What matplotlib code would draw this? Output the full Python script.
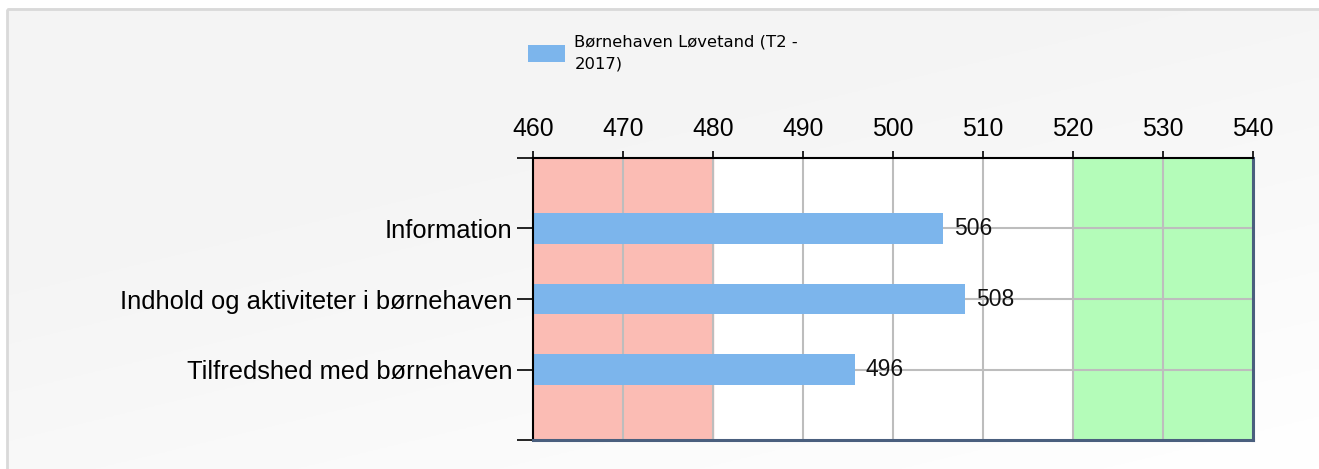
import numpy as np
import matplotlib.pyplot as plt
from matplotlib.patches import Rectangle

categories = ["Information", "Indhold og aktiviteter i børnehaven", "Tilfredshed med børnehaven"]
values = [505.6, 508.0, 495.8]
series_name = "Børnehaven Løvetand (T2 -\n2017)"
x_ticks = [460, 470, 480, 490, 500, 510, 520, 530, 540]
low_band = (460, 480)
high_band = (520, 540)

plt.rcParams["font.family"] = ["Liberation Sans", "DejaVu Sans"]

W, H = 1319, 469
fig = plt.figure(figsize=(W / 100, H / 100), dpi=100)
fig.patch.set_facecolor("white")

# panel background with light border
bg = fig.add_axes([0, 0, 1, 1], zorder=-10)
bg.set_xlim(0, W)
bg.set_ylim(H, 0)
bg.axis("off")
grad = np.linspace(0, 1, 200)
gx, gy = np.meshgrid(grad, grad)
shade = 0.957 + 0.043 * np.clip((gx * 0.6 + gy * 0.9) - 0.45, 0, 1) ** 1.0
bg.imshow(np.dstack([shade] * 3), extent=[7, W + 20, H + 20, 9], aspect="auto", zorder=0)
bg.add_patch(Rectangle((7, 9), W + 20, H + 20, fill=False, edgecolor="#d9d9d9", lw=2, zorder=1))

ax = fig.add_axes([533 / W, 1 - 440 / H, (1253 - 533) / W, (440 - 158) / H])
ax.set_facecolor("white")
ypos = np.arange(1, len(categories) + 1)

ax.axvspan(*low_band, color="#fbbcb4", zorder=0)
ax.axvspan(*high_band, color="#b4fcb9", zorder=0)
for xv in x_ticks:
    ax.axvline(xv, color="#bdbdbd", lw=1.5, zorder=1)
for yv in ypos:
    ax.axhline(yv, color="#bdbdbd", lw=1.5, zorder=1)

ax.barh(ypos, np.array(values) - x_ticks[0], left=x_ticks[0], height=0.43,
        color="#7cb5ec", zorder=2, label=series_name)
for yv, v in zip(ypos, values):
    ax.text(v + 1.2, yv, f"{v:.0f}", va="center", ha="left", fontsize=16.5, color="#111111", zorder=3)

ax.set_xlim(x_ticks[0], x_ticks[-1])
ax.set_ylim(4, 0)
ax.xaxis.tick_top()
ax.set_xticks(x_ticks)
ax.tick_params(axis="x", length=5, width=1.2, labelsize=17.8, pad=7, colors="black")
ax.set_yticks([0, 1, 2, 3, 4])
ax.set_yticklabels([""] + categories + [""])
ax.tick_params(axis="y", length=11.5, width=1.2, labelsize=18.4, pad=3.5)

ax.spines["left"].set_color("black")
ax.spines["left"].set_linewidth(1.5)
ax.spines["top"].set_color("black")
ax.spines["top"].set_linewidth(1.5)
ax.spines["right"].set_color("#4a5f7e")
ax.spines["right"].set_linewidth(2.2)
ax.spines["bottom"].set_color("#4a5f7e")
ax.spines["bottom"].set_linewidth(2.2)

leg = fig.legend(loc="upper left", bbox_to_anchor=(513 / W, 1 - 20 / H), frameon=False,
                 handlelength=2.3, handleheight=1.2, handletextpad=0.55,
                 prop={"family": ["DejaVu Sans"], "size": 11.8})
for t in leg.get_texts():
    t.set_linespacing(1.55)

fig.savefig("out.png", dpi=100)
plt.close(fig)
